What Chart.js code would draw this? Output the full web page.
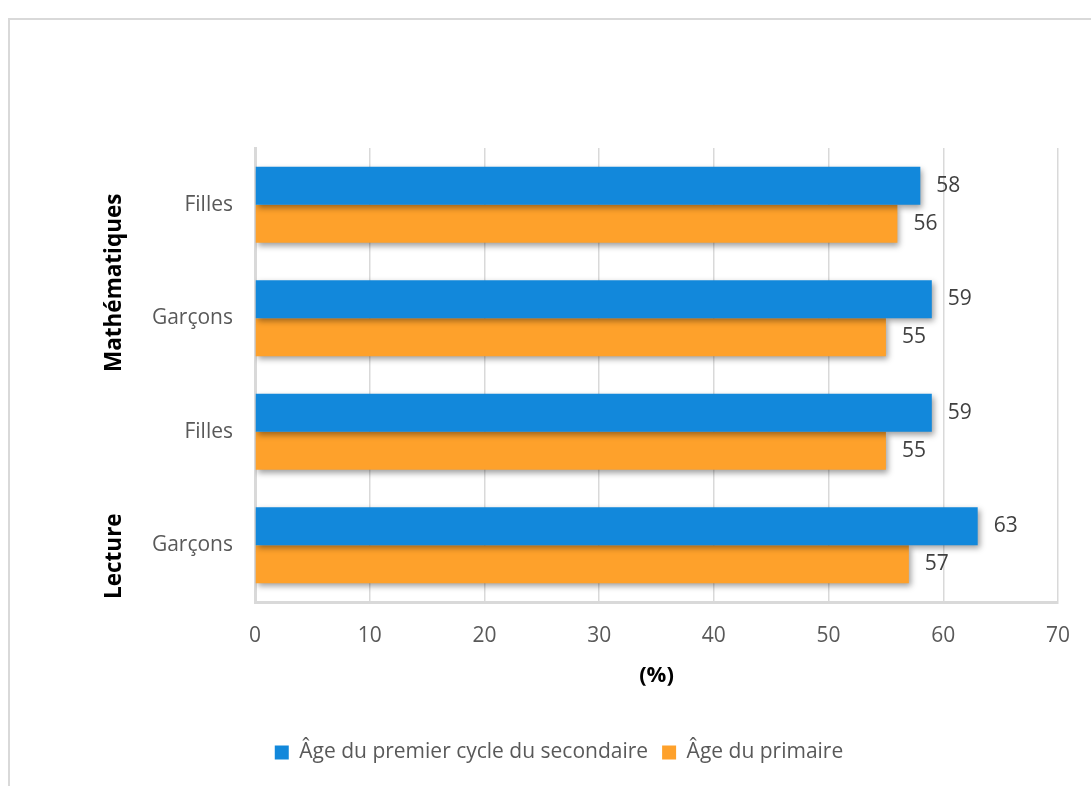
<!DOCTYPE html>
<html>
<head>
<meta charset="utf-8">
<script src="https://cdn.jsdelivr.net/npm/chart.js@4.4.1/dist/chart.umd.min.js"></script>
<style>
  html, body { margin: 0; padding: 0; background: #fff; }
  #wrap { position: absolute; left: 0; top: 0; width: 1091px; height: 786px; }
</style>
</head>
<body>
<div id="wrap"><canvas id="chart"></canvas></div>
<script>
// ─── Données ─────────────────────────────────────────────
const categories = ['Filles', 'Garçons', 'Filles', 'Garçons'];
const groups     = ['Mathématiques', 'Lecture'];
const groupRows  = [[0, 1], [2, 3]];
const secondaire = [58, 59, 59, 63];
const primaire   = [56, 55, 55, 57];
const xTicks     = [0, 10, 20, 30, 40, 50, 60, 70];

const FONT = "'Open Sans', 'DejaVu Sans', sans-serif";
const COLORS = { bleu: '#1288db', orange: '#fea12b', grille: '#d9d9d9', texte: '#595959', valeur: '#404040' };

Chart.defaults.font.family = FONT;
Chart.defaults.font.size   = 21;
Chart.defaults.color       = COLORS.texte;

// cadre gris autour du graphique
const framePlugin = {
  id: 'frame',
  beforeDraw(chart) {
    const ctx = chart.ctx;
    ctx.save();
    ctx.strokeStyle = COLORS.grille;
    ctx.lineWidth = 2;
    ctx.strokeRect(9, 19, 1200, 1000);
    ctx.restore();
  }
};

// ombre portée sous les barres
const shadowPlugin = {
  id: 'barShadow',
  beforeDatasetsDraw(chart) {
    const ctx = chart.ctx;
    ctx.save();
    ctx.shadowColor = 'rgba(0,0,0,0.38)';
    ctx.shadowBlur = 6;
    ctx.shadowOffsetX = 2;
    ctx.shadowOffsetY = 3;
  },
  afterDatasetsDraw(chart) {
    chart.ctx.restore();
  }
};

// étiquettes de valeur à droite des barres + libellés de groupe
const labelsPlugin = {
  id: 'valueLabels',
  afterDraw(chart) {
    const ctx = chart.ctx;
    ctx.save();
    ctx.font = `21px ${FONT}`;
    ctx.fillStyle = COLORS.valeur;
    ctx.textAlign = 'left';
    ctx.textBaseline = 'middle';
    chart.data.datasets.forEach((ds, i) => {
      chart.getDatasetMeta(i).data.forEach((bar, j) => {
        ctx.fillText(ds.data[j], bar.x + 16, bar.y);
      });
    });

    const y = chart.scales.y;
    ctx.font = `bold 22.5px ${FONT}`;
    ctx.fillStyle = '#000';
    groups.forEach((g, k) => {
      const last = groupRows[k][groupRows[k].length - 1];
      const bottom = last + 1 < categories.length
        ? (y.getPixelForValue(last) + y.getPixelForValue(last + 1)) / 2
        : chart.chartArea.bottom;
      ctx.save();
      ctx.translate(115, bottom - 3);
      ctx.rotate(-Math.PI / 2);
      ctx.textAlign = 'left';
      ctx.textBaseline = 'middle';
      ctx.fillText(g, 0, 0);
      ctx.restore();
    });
    ctx.restore();
  }
};

new Chart(document.getElementById('chart'), {
  type: 'bar',
  data: {
    labels: categories,
    datasets: [
      { label: 'Âge du premier cycle du secondaire', data: secondaire, backgroundColor: COLORS.bleu },
      { label: 'Âge du primaire', data: primaire, backgroundColor: COLORS.orange },
    ],
  },
  options: {
    indexAxis: 'y',
    responsive: true, maintainAspectRatio: false,
    animation: false,
    layout: { padding: { left: 59, right: 32, top: 148, bottom: 13 } },
    datasets: { bar: { categoryPercentage: 0.67, barPercentage: 1.0, borderWidth: 0 } },
    scales: {
      x: {
        min: 0, max: 70,
        afterBuildTicks: s => { s.ticks = xTicks.map(v => ({ value: v })); },
        afterFit: s => { s.height = 126; },
        grid: { color: COLORS.grille, lineWidth: 1.5, drawTicks: false },
        border: { color: COLORS.grille, width: 3 },
        ticks: { padding: 21, color: COLORS.texte, font: { size: 21 } },
        title: {
          display: true, text: '(%)', color: '#000',
          font: { size: 22, weight: 'bold' },
          padding: { top: 0, bottom: 39 },
        },
      },
      y: {
        afterFit: s => { s.width = 196; },
        grid: { display: false, drawTicks: false },
        border: { color: COLORS.grille, width: 3 },
        ticks: { padding: 22, color: COLORS.texte, font: { size: 21 } },
      },
    },
    plugins: {
      legend: {
        display: true, position: 'bottom',
        labels: { boxWidth: 14, boxHeight: 14, padding: 14, color: COLORS.texte, font: { size: 21 } },
      },
      tooltip: { enabled: false },
    },
  },
  plugins: [framePlugin, shadowPlugin, labelsPlugin],
});
</script>
</body>
</html>
